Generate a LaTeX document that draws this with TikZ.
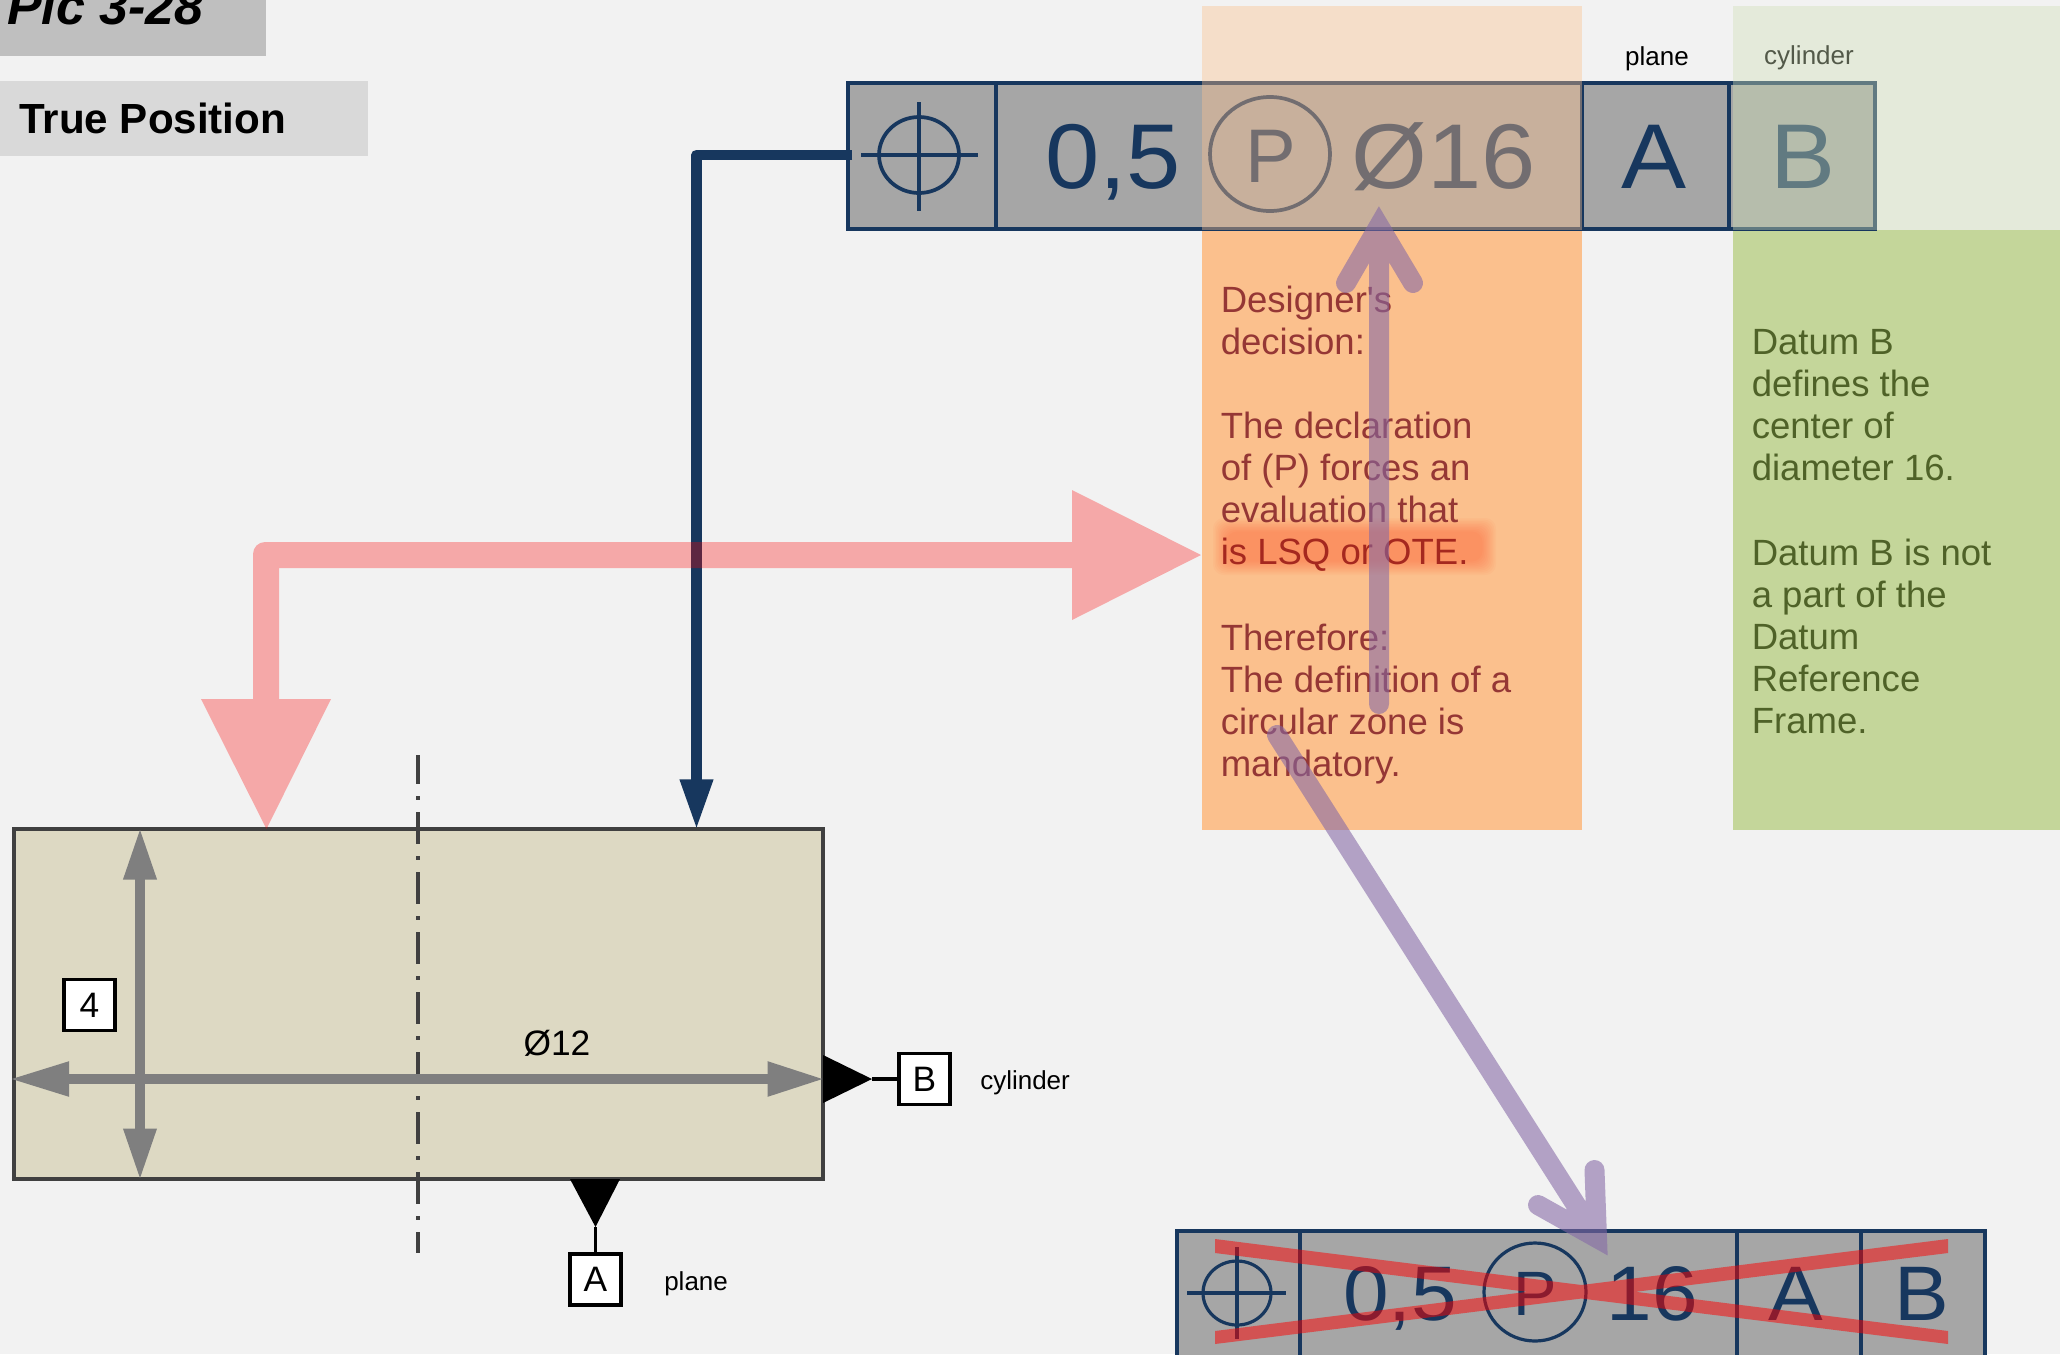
\documentclass[tikz,border=0pt]{standalone}
\usepackage{graphicx}
\usepackage{fontspec}
\setmainfont{Liberation Sans}
\newfontfamily\plainfont{Liberation Sans}
\usetikzlibrary{arrows.meta}
\definecolor{pagebg}{HTML}{F2F2F2}
\definecolor{navy}{HTML}{17375E}
\definecolor{orangebox}{HTML}{FBC08D}
\definecolor{greenbox}{HTML}{C4D69A}
\definecolor{greenveil}{HTML}{D0E0B7}
\definecolor{fcfgrey}{HTML}{A6A6A6}
\definecolor{orangetext}{HTML}{953735}
\definecolor{greentext}{HTML}{4F6228}
\definecolor{parttan}{HTML}{DDD9C3}
\definecolor{dimgrey}{HTML}{7F7F7F}
\definecolor{purplebar}{HTML}{8468A6}
\newcommand{\wide}[1]{\scalebox{1.06}[1]{#1}}
\tikzset{
  x=0.75pt,y=-0.75pt,
  fcfbox/.style={draw=navy,fill=fcfgrey,line width=2.7pt},
  fcfrule/.style={draw=navy,line width=2.6pt},
  fcfbig/.style={text=navy,inner sep=0pt,anchor=base,font=\fontsize{69pt}{80pt}\selectfont},
  fcfsmall/.style={text=navy,inner sep=0pt,anchor=base,font=\fontsize{58pt}{70pt}\selectfont},
  sym/.style={draw=navy,line width=2.8pt},
  note/.style={inner sep=0pt,anchor=north west,align=left,font=\fontsize{27.4pt}{31.5pt}\selectfont},
  small/.style={inner sep=0pt,text=black,font=\fontsize{19.5pt}{24pt}\selectfont},
  datum/.style={draw=black,fill=white,line width=2.6pt,minimum width=38pt,minimum height=38pt,inner sep=0pt,font=\fontsize{26.5pt}{30pt}\selectfont},
  dim/.style={draw=dimgrey,fill=dimgrey},
  purplearrow/.style={draw=purplebar,line width=15pt,line cap=round,line join=miter,draw opacity=.58},
}
\begin{document}
\begin{tikzpicture}
\useasboundingbox (0,0) rectangle (2060,1354);
\clip (0,0) rectangle (2060,1354);
\fill[pagebg] (0,0) rectangle (2060,1354);
% title boxes
\fill[black!25] (0,-5) rectangle (266,56);
\node[inner sep=0pt,anchor=base west,font=\fontsize{39pt}{42pt}\selectfont\bfseries\itshape] (title) at (7,24) {Pic 3-28};
\fill[black!15] (0,81) rectangle (368,156);
\node[inner sep=0pt,anchor=base west,font=\fontsize{31.6pt}{36pt}\selectfont\bfseries] (tpos) at (19,133) {True Position};
% lower solid note boxes
\fill[orangebox] (1202,230) rectangle (1582,830);
\fill[greenbox] (1733,230) rectangle (2060,830);
% glow
\foreach \g in {0,1,...,9}
  \fill[red!70!orange,opacity=.03,rounded corners=8pt] (1213+\g*1.5,518+\g*1.5) rectangle (1496-\g*1.5,575-\g*1.5);
% notes
\node[note,text=orangetext] (designer) at (1220.5,285.5) {{\plainfont Designer's}\\decision:\\[31.5pt]The declaration\\of (P) forces an\\evaluation that\\{\color[HTML]{A5281F}is LSQ or OTE.}\\[33pt]Therefore:\\The definition of a\\circular zone is\\mandatory.};
\node[note,text=greentext] (datumnote) at (1751.5,329) {Datum B\\defines the\\center of\\diameter 16.\\[32pt]Datum B is not\\a part of the\\Datum\\Reference\\Frame.};
% top FCF
\node[small] (plane1) at (1657,59) {plane};
\node[small] (cyl1) at (1809,58) {cylinder};
\path[fcfbox] (848,83) rectangle (1875,229);
\coordinate (fcfleft) at (852,155);
\path[fcfrule] (996,83) -- (996,229) (1582,83) -- (1582,229) (1729,83) -- (1729,229);
\draw[sym] (919,155) ellipse [x radius=40,y radius=38];
\draw[sym] (861,155) -- (978,155) (919,102) -- (919,211);
\node[fcfbig] (t05) at (1113,188) {\wide{0,5}};
\draw[sym] (1270,154) ellipse [x radius=60,y radius=57];
\node[fcfsmall,font=\fontsize{57pt}{60pt}\selectfont] (tp) at (1271,182) {P};
\node[fcfbig] (t16) at (1444,188) {\wide{Ø16}};
\node[fcfbig] (ta) at (1654,188) {\wide{A}};
\node[fcfbig] (tb) at (1803,188) {\wide{B}};
% translucent upper panels
\fill[orangebox,opacity=.4] (1202,6) rectangle (1582,230);
\fill[greenveil,opacity=.4] (1733,6) rectangle (2060,230);
% part
\draw[draw=black!75,fill=parttan,line width=2.6pt] (14,829) rectangle (823,1179);
\coordinate (cltop) at (418,755);
\coordinate (clbot) at (418,1253);
\draw[black!75,line width=3pt,dash pattern=on 24pt off 9pt on 3pt off 9pt,dash phase=2.25pt] (cltop) -- (clbot);
% dims
\coordinate (h1) at (9,1079); \coordinate (h2) at (825,1079);
\coordinate (v1) at (140,827.5); \coordinate (v2) at (140,1180.5);
\draw[dim,line width=8.2pt,{Triangle[length=45pt,width=24pt]}-{Triangle[length=43pt,width=24pt]}] (h1) -- (h2);
\draw[dim,line width=7.8pt,{Triangle[length=39pt,width=23pt]}-{Triangle[length=39pt,width=23pt]}] (v1) -- (v2);
\node[datum] (d4) at (89.5,1005) {4};
\node[inner sep=0pt,font=\fontsize{26.5pt}{30pt}\selectfont] (d12) at (557,1043) {Ø12};
% datum features
\node[datum] (db) at (924.5,1079) {B};
\node[datum] (da) at (595.5,1279.5) {A};
\fill[black] (823,1055) -- (872,1079) coordinate (bt) -- (823,1103) -- cycle;
\draw[black,line width=2.6pt] (bt) -- (db);
\fill[black] (570,1179) -- (595.5,1227) coordinate (at) -- (620,1179) -- cycle;
\draw[black,line width=2.6pt] (at) -- (da);
\node[small,anchor=base west] (cyl2) at (980,1089) {cylinder};
\node[small,anchor=base west] (plane2) at (664,1290) {plane};
% navy leader
\coordinate (navytip) at (696.5,830);
\coordinate (navyelbow) at (696.5,155);
\draw[navy,line width=8pt,line join=round,-{Triangle[length=38pt,width=23pt]}] (fcfleft) -- (navyelbow) -- (navytip);
% pink double arrow
\fill[red,opacity=.3] (253,699) [rounded corners=9pt] -- (253,542) [sharp corners] -- (1072,542) -- (1072,490) -- (1201,555) -- (1072,620) -- (1072,568) -- (279,568) -- (279,699) -- (331,699) -- (266.5,829) -- (201,699) -- cycle;
% bottom FCF
\path[draw=navy,fill=fcfgrey,line width=2.4pt] (1177,1231) rectangle (1985,1370);
\path[draw=navy,line width=2.3pt] (1300,1231) -- (1300,1370) (1737,1231) -- (1737,1370) (1861,1231) -- (1861,1370);
\draw[sym,line width=2.4pt] (1237,1293) ellipse [x radius=34,y radius=32];
\draw[sym,line width=2.4pt] (1187,1293) -- (1286,1293) (1237,1247) -- (1237,1339);
\node[fcfsmall] (b05) at (1400,1320) {\wide{0,5}};
\draw[sym,line width=2.4pt] (1535,1292) ellipse [x radius=51,y radius=49];
\node[fcfsmall,font=\fontsize{47pt}{60pt}\selectfont] (bp) at (1535,1315) {\scalebox{1.04}[1]{P}};
\node[fcfsmall] (b16) at (1652.5,1320) {\wide{16}};
\node[fcfsmall] (ba) at (1796,1320) {\wide{A}};
\node[fcfsmall] (bb) at (1922,1320) {\wide{B}};
\fill[red,opacity=.5] (1215,1239) -- (1948,1331) -- (1948,1344) -- (1215,1253) -- cycle
  (1948,1239) -- (1948,1253) -- (1215,1344) -- (1215,1331) -- cycle;
% purple arrows
\draw[purplearrow] (1379,704) -- (1379,226) (1346,283) -- (1379,226) -- (1413,283);
\draw[purplearrow] (1277,735) -- (1597,1238) (1594.5,1170) -- (1597,1238) -- (1538,1205);
\end{tikzpicture}
\end{document}
